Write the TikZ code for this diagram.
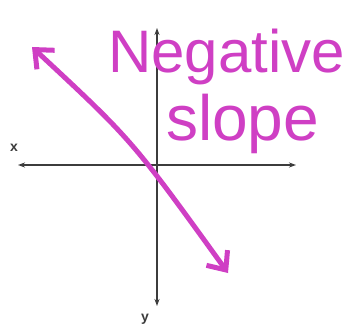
\documentclass[tikz,border=0pt]{standalone}
\usepackage{fontspec}
\setmainfont{Liberation Sans}
\usetikzlibrary{arrows.meta}
\definecolor{Ink}{HTML}{3C3C3C}
\definecolor{Marker}{HTML}{CF3FC4}

\begin{document}
\begin{tikzpicture}[x=1pt,y=-1pt,
  axis/.style={draw=Ink,line width=1.6pt,{Stealth[length=7pt,width=5pt]}-{Stealth[length=7pt,width=5pt]}},
  slope/.style={draw=Marker,line width=5pt,line cap=round,{Straight Barb[length=15pt,width=26pt]}-{Straight Barb[length=15pt,width=26pt]}},
  lbl/.style={text=Ink,font=\bfseries\fontsize{14}{14}\selectfont,inner sep=0pt},
  hand/.style={text=Marker,font=\fontsize{60}{60}\selectfont,inner sep=0pt,anchor=base west}
]
\useasboundingbox[fill=white] (0,0) rectangle (351,329);
\coordinate (xl) at (18,165);
\coordinate (xr) at (296,165);
\coordinate (yt) at (157,28);
\coordinate (yb) at (157,306);
\draw[axis] (xl)--(xr);
\draw[axis] (yt)--(yb);
\node[lbl] (xlab) at (14,148) {x};
\node[lbl] (ylab) at (145,319) {y};
\coordinate (tl) at (32,47);
\coordinate (br) at (228,273);
\draw[slope] (tl) .. controls (132,140) .. (br);
\node[hand] (neg) at (108,73) {Negative};
\node[hand,font=\fontsize{64}{64}\selectfont] (slp) at (166,140) {slope};
\end{tikzpicture}
\end{document}
